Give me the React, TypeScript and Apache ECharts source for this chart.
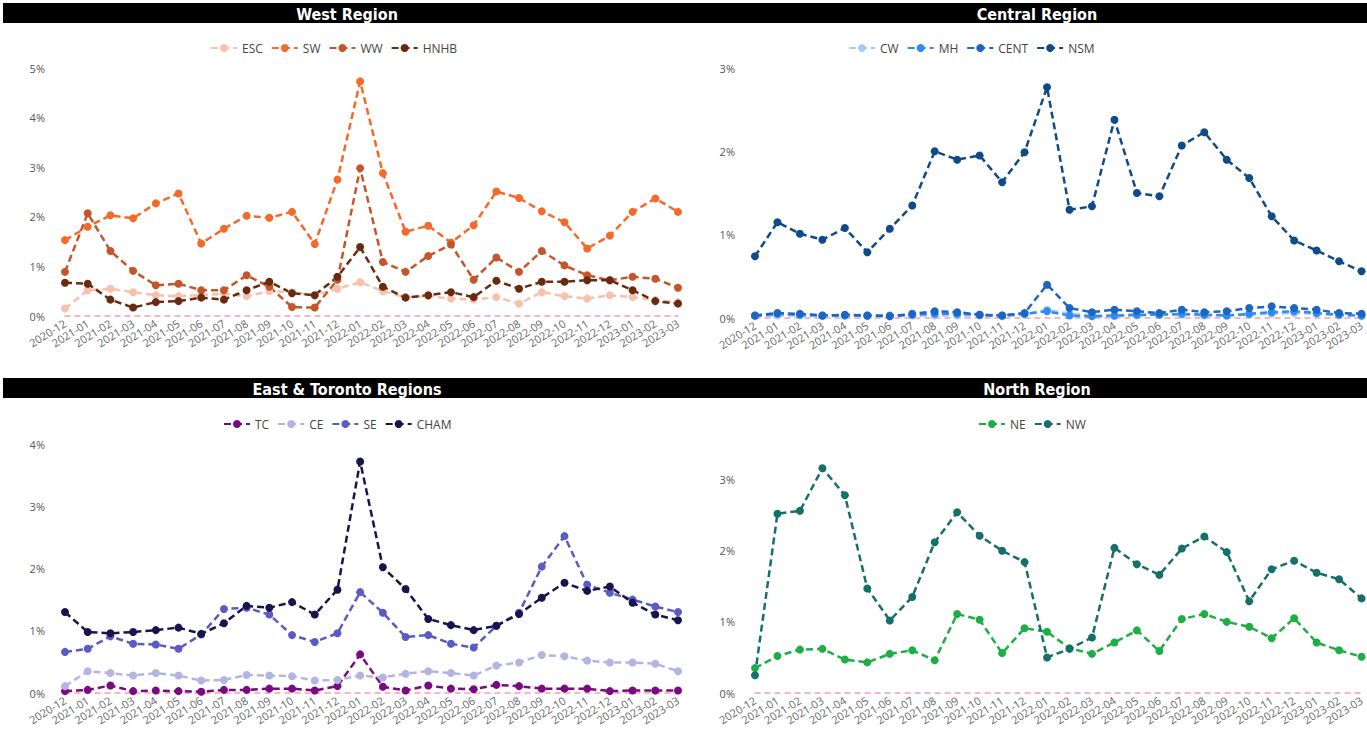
import React, { useEffect, useRef } from "react";
import * as echarts from "echarts";

const months = [
  "2020-12", "2021-01", "2021-02", "2021-03", "2021-04", "2021-05", "2021-06",
  "2021-07", "2021-08", "2021-09", "2021-10", "2021-11", "2021-12", "2022-01",
  "2022-02", "2022-03", "2022-04", "2022-05", "2022-06", "2022-07", "2022-08",
  "2022-09", "2022-10", "2022-11", "2022-12", "2023-01", "2023-02", "2023-03",
];

// West Region (%)
const esc = [0.15, 0.52, 0.55, 0.48, 0.42, 0.40, 0.42, 0.45, 0.40, 0.50, 0.48, 0.42, 0.55, 0.68, 0.50, 0.38, 0.40, 0.35, 0.33, 0.38, 0.25, 0.48, 0.40, 0.35, 0.42, 0.38, 0.32, 0.28];
const sw = [1.53, 1.80, 2.03, 1.97, 2.27, 2.47, 1.46, 1.76, 2.02, 1.98, 2.10, 1.45, 2.75, 4.73, 2.88, 1.70, 1.82, 1.48, 1.83, 2.51, 2.38, 2.11, 1.89, 1.36, 1.62, 2.10, 2.37, 2.10];
const ww = [0.89, 2.07, 1.31, 0.91, 0.62, 0.65, 0.52, 0.52, 0.82, 0.59, 0.18, 0.17, 0.73, 2.98, 1.09, 0.89, 1.21, 1.44, 0.73, 1.18, 0.89, 1.31, 1.02, 0.82, 0.72, 0.79, 0.75, 0.57];
const hnhb = [0.67, 0.65, 0.33, 0.17, 0.28, 0.30, 0.37, 0.33, 0.52, 0.69, 0.46, 0.42, 0.79, 1.39, 0.59, 0.37, 0.42, 0.48, 0.38, 0.71, 0.55, 0.69, 0.69, 0.72, 0.72, 0.52, 0.30, 0.25];

// Central Region (%)
const cw = [0.02, 0.03, 0.03, 0.02, 0.03, 0.02, 0.02, 0.03, 0.03, 0.03, 0.03, 0.02, 0.04, 0.10, 0.05, 0.03, 0.02, 0.03, 0.04, 0.04, 0.03, 0.03, 0.04, 0.05, 0.06, 0.05, 0.03, 0.02];
const mh = [0.03, 0.05, 0.04, 0.03, 0.03, 0.03, 0.03, 0.04, 0.05, 0.05, 0.04, 0.03, 0.05, 0.08, 0.03, 0.02, 0.03, 0.04, 0.04, 0.05, 0.04, 0.03, 0.05, 0.07, 0.08, 0.06, 0.04, 0.03];
const cent = [0.03, 0.06, 0.05, 0.03, 0.04, 0.03, 0.02, 0.05, 0.08, 0.07, 0.04, 0.03, 0.06, 0.40, 0.12, 0.07, 0.10, 0.08, 0.06, 0.10, 0.07, 0.08, 0.12, 0.14, 0.12, 0.10, 0.06, 0.05];
const nsm = [0.74, 1.15, 1.01, 0.94, 1.08, 0.79, 1.07, 1.35, 2.00, 1.90, 1.95, 1.63, 1.99, 2.77, 1.30, 1.34, 2.38, 1.50, 1.46, 2.07, 2.23, 1.90, 1.68, 1.22, 0.93, 0.81, 0.68, 0.56];

// East & Toronto Regions (%)
const tc = [0.03, 0.05, 0.12, 0.03, 0.04, 0.03, 0.02, 0.05, 0.05, 0.07, 0.07, 0.04, 0.11, 0.62, 0.10, 0.04, 0.12, 0.07, 0.06, 0.13, 0.11, 0.07, 0.07, 0.07, 0.03, 0.04, 0.04, 0.04];
const ce = [0.11, 0.35, 0.32, 0.28, 0.32, 0.28, 0.20, 0.21, 0.29, 0.28, 0.27, 0.20, 0.21, 0.28, 0.25, 0.31, 0.35, 0.32, 0.28, 0.44, 0.49, 0.61, 0.59, 0.52, 0.49, 0.49, 0.47, 0.35];
const se = [0.66, 0.71, 0.91, 0.79, 0.78, 0.71, 0.94, 1.35, 1.37, 1.26, 0.93, 0.82, 0.96, 1.62, 1.29, 0.90, 0.93, 0.79, 0.73, 1.08, 1.29, 2.03, 2.52, 1.74, 1.61, 1.50, 1.39, 1.30];
const cham = [1.30, 0.98, 0.96, 0.98, 1.01, 1.05, 0.95, 1.12, 1.40, 1.37, 1.46, 1.26, 1.66, 3.72, 2.02, 1.67, 1.19, 1.09, 1.01, 1.08, 1.27, 1.53, 1.77, 1.64, 1.71, 1.45, 1.26, 1.17];

// North Region (%)
const ne = [0.35, 0.52, 0.61, 0.62, 0.47, 0.43, 0.55, 0.60, 0.46, 1.11, 1.03, 0.56, 0.91, 0.86, 0.63, 0.55, 0.71, 0.88, 0.59, 1.04, 1.11, 1.00, 0.93, 0.77, 1.05, 0.71, 0.60, 0.51];
const nw = [0.25, 2.52, 2.56, 3.16, 2.78, 1.47, 1.02, 1.35, 2.12, 2.54, 2.21, 2.00, 1.84, 0.50, 0.62, 0.78, 2.04, 1.81, 1.66, 2.03, 2.20, 1.98, 1.29, 1.74, 1.86, 1.69, 1.60, 1.33];

const panelTitles = ["West Region", "Central Region", "East & Toronto Regions", "North Region"];

const FONT = "'Open Sans', 'Noto Sans', sans-serif";

function mkSeries(name: string, data: number[], color: string, idx: number) {
  return {
    type: "line",
    name,
    data,
    xAxisIndex: idx,
    yAxisIndex: idx,
    symbol: "circle",
    symbolSize: 8,
    clip: false,
    lineStyle: { type: [7, 4], width: 2.5, color },
    itemStyle: { color },
    emphasis: { disabled: true },
  };
}

export default function App() {
  const ref = useRef<HTMLDivElement>(null);

  useEffect(() => {
    if (!ref.current) return;
    const chart = echarts.init(ref.current, null, { renderer: "svg" });

    const grids = [
      { left: 65, right: 689, top: 68, bottom: 417 },
      { left: 755, right: 1, top: 68, bottom: 415 },
      { left: 65, right: 689, top: 444, bottom: 40 },
      { left: 755, right: 1, top: 444, bottom: 40 },
    ];
    const maxes = [5, 3, 4, 3.5];

    const xAxes = grids.map((_, i) => ({
      type: "category",
      gridIndex: i,
      data: months,
      boundaryGap: false,
      axisLine: { show: true, lineStyle: { color: "#f2a0b4", type: [5, 5], width: 1.5 } },
      axisTick: { show: false },
      axisLabel: {
        interval: 0,
        rotate: 32,
        fontSize: 11,
        color: "#666",
        fontFamily: FONT,
        margin: 6,
      },
      splitLine: { show: false },
    }));

    const yAxes = grids.map((_, i) => ({
      type: "value",
      gridIndex: i,
      min: 0,
      max: maxes[i],
      interval: 1,
      axisLine: { show: false },
      axisTick: { show: false },
      splitLine: { show: false },
      axisLabel: {
        margin: 20,
        fontSize: 11,
        color: "#555",
        fontFamily: FONT,
        showMaxLabel: Number.isInteger(maxes[i]),
        formatter: (v: number) => (Number.isInteger(v) ? v + "%" : ""),
      },
    }));

    const legendBase = {
      orient: "horizontal",
      itemWidth: 26,
      itemHeight: 10,
      itemGap: 8,
      textStyle: { fontSize: 12, color: "#444", fontFamily: FONT },
    };

    const legends = [
      { ...legendBase, left: 205, top: 37, data: ["ESC", "SW", "WW", "HNHB"] },
      { ...legendBase, left: 843, top: 37, data: ["CW", "MH", "CENT", "NSM"] },
      { ...legendBase, left: 218, top: 413, data: ["TC", "CE", "SE", "CHAM"] },
      { ...legendBase, left: 973, top: 413, data: ["NE", "NW"] },
    ];

    const series = [
      mkSeries("ESC", esc, "#f6c1ad", 0),
      mkSeries("SW", sw, "#f26b2a", 0),
      mkSeries("WW", ww, "#c4562a", 0),
      mkSeries("HNHB", hnhb, "#6a2a12", 0),
      mkSeries("CW", cw, "#a9caf2", 1),
      mkSeries("MH", mh, "#2e8cf0", 1),
      mkSeries("CENT", cent, "#1c65c2", 1),
      mkSeries("NSM", nsm, "#0f4a8a", 1),
      mkSeries("TC", tc, "#7a0a80", 2),
      mkSeries("CE", ce, "#b4b4e0", 2),
      mkSeries("SE", se, "#5b5bc4", 2),
      mkSeries("CHAM", cham, "#18154e", 2),
      mkSeries("NE", ne, "#1fae45", 3),
      mkSeries("NW", nw, "#16706a", 3),
    ];

    const bar = (x: number, y: number, w: number, h: number) => ({
      type: "rect",
      shape: { x, y, width: w, height: h },
      style: { fill: "#000" },
      silent: true,
    });
    const ttl = (text: string, x: number, y: number) => ({
      type: "text",
      x,
      y,
      style: {
        text,
        fill: "#fff",
        font: "bold 16px 'DejaVu Sans Condensed', 'Liberation Sans Narrow', sans-serif",
        textAlign: "center",
        textVerticalAlign: "middle",
      },
      silent: true,
    });

    chart.setOption({
      animation: false,
      backgroundColor: "#fff",
      grid: grids,
      xAxis: xAxes,
      yAxis: yAxes,
      legend: legends,
      series,
      graphic: [
        bar(3, 3, 686, 20),
        bar(689, 3, 678, 20),
        bar(3, 378, 686, 20),
        bar(689, 378, 678, 20),
        ttl(panelTitles[0], 347, 14),
        ttl(panelTitles[1], 1037, 14),
        ttl(panelTitles[2], 347, 389),
        ttl(panelTitles[3], 1037, 389),
      ],
    });

    return () => chart.dispose();
  }, []);

  return (
    <div
      ref={ref}
      style={{ position: "fixed", left: 0, top: 0, width: 1367, height: 733, background: "#fff" }}
    />
  );
}
